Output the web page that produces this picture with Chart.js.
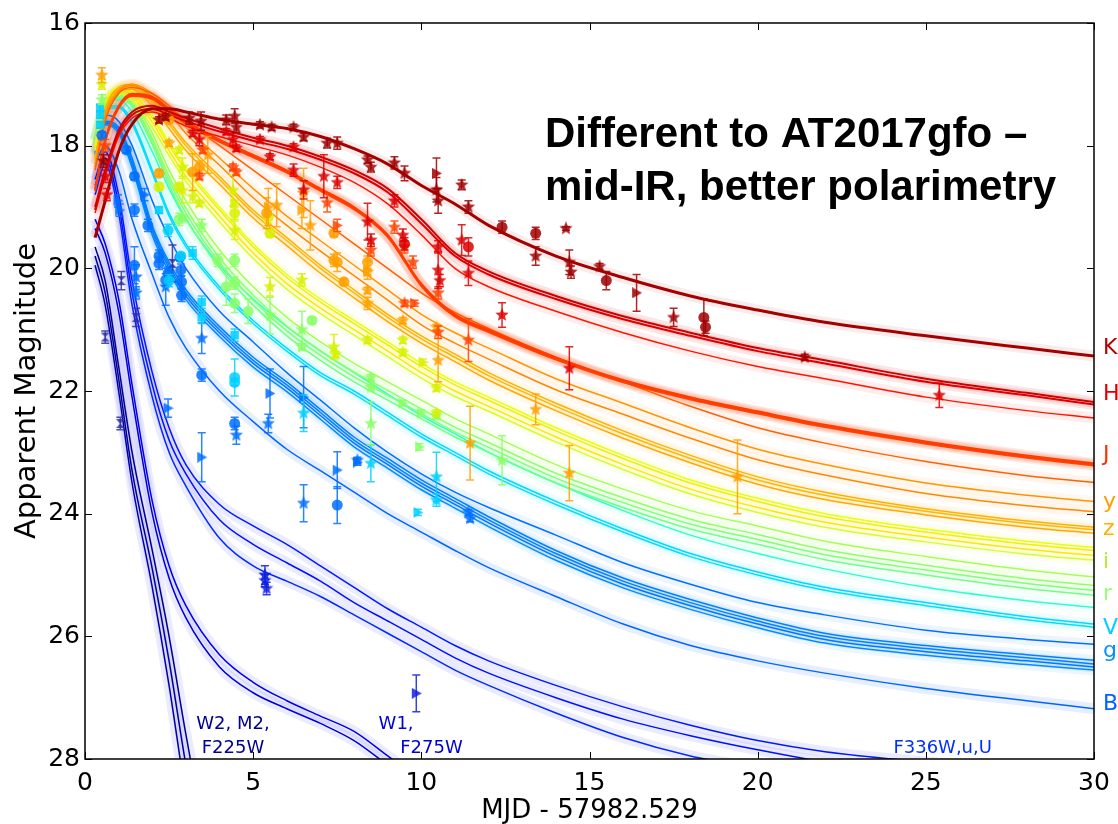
<!DOCTYPE html>
<html>
<head>
<meta charset="utf-8">
<title>Light curves</title>
<script src="https://cdn.jsdelivr.net/npm/chart.js@4.4.0/dist/chart.umd.min.js"></script>
<style>
  html, body { margin: 0; padding: 0; background: #fff; }
  #wrap { width: 1118px; height: 824px; }
</style>
</head>
<body>
<div id="wrap"><canvas id="lc" width="1118" height="824"></canvas></div>
<script>
// ---- model light curves, sampled on one day grid ----
const modelDays = [0.3, 0.6, 1, 1.4, 2, 2.5, 3, 4, 5, 6, 7, 8, 9, 10, 11, 12, 14, 16, 18, 20, 22, 25, 28, 30];

const kModel   = [19.5, 18.9, 18.1, 17.65, 17.4, 17.4, 17.45, 17.57, 17.65, 17.72, 17.85, 18.05, 18.3, 18.65, 18.95, 19.3, 19.8, 20.15, 20.45, 20.68, 20.88, 21.1, 21.3, 21.43];
const hModelA  = [19.0, 18.4, 17.75, 17.45, 17.35, 17.45, 17.55, 17.72, 17.87, 18.0, 18.18, 18.4, 18.7, 19.2, 19.75, 20.05, 20.45, 20.78, 21.05, 21.3, 21.5, 21.8, 22.03, 22.18];
const hModelB  = [19.05, 18.45, 17.8, 17.5, 17.4, 17.5, 17.6, 17.77, 17.92, 18.05, 18.23, 18.45, 18.76, 19.27, 19.8, 20.1, 20.5, 20.83, 21.1, 21.35, 21.55, 21.85, 22.07, 22.22];
const hModelC  = [19.1, 18.5, 17.85, 17.55, 17.45, 17.55, 17.68, 17.85, 18.0, 18.15, 18.35, 18.6, 18.95, 19.45, 20.0, 20.3, 20.7, 21.05, 21.35, 21.6, 21.8, 22.1, 22.32, 22.44];
const jModelA  = [18.7, 17.9, 17.35, 17.15, 17.2, 17.4, 17.6, 17.9, 18.15, 18.4, 18.7, 19.0, 19.45, 20.25, 20.75, 21.0, 21.45, 21.82, 22.1, 22.33, 22.55, 22.82, 23.05, 23.18];
const jModelB  = [18.72, 17.92, 17.37, 17.17, 17.22, 17.42, 17.62, 17.92, 18.17, 18.42, 18.72, 19.02, 19.47, 20.27, 20.77, 21.02, 21.47, 21.84, 22.12, 22.35, 22.57, 22.84, 23.07, 23.2];
const jModelC  = [18.74, 17.94, 17.39, 17.19, 17.24, 17.44, 17.64, 17.94, 18.19, 18.44, 18.74, 19.04, 19.49, 20.29, 20.79, 21.04, 21.49, 21.86, 22.14, 22.37, 22.59, 22.86, 23.09, 23.22];
const oModel   = [18.4, 17.6, 17.15, 17.05, 17.15, 17.35, 17.6, 18.0, 18.4, 18.8, 19.2, 19.6, 20.0, 20.4, 20.72, 20.98, 21.45, 21.85, 22.25, 22.6, 22.85, 23.15, 23.38, 23.49];
const yModelA  = [18.3, 17.5, 17.1, 17.0, 17.15, 17.4, 17.7, 18.2, 18.7, 19.15, 19.55, 19.95, 20.35, 20.75, 21.05, 21.3, 21.8, 22.2, 22.6, 22.95, 23.2, 23.5, 23.7, 23.8];
const yModelB  = [18.35, 17.55, 17.12, 17.02, 17.2, 17.47, 17.8, 18.32, 18.85, 19.3, 19.72, 20.12, 20.52, 20.92, 21.22, 21.48, 21.98, 22.38, 22.77, 23.12, 23.37, 23.67, 23.87, 23.97];
const zModelA  = [18.2, 17.4, 17.05, 17.0, 17.25, 17.6, 17.95, 18.5, 19.05, 19.5, 19.95, 20.35, 20.75, 21.1, 21.4, 21.7, 22.2, 22.65, 23.05, 23.4, 23.65, 23.92, 24.12, 24.22];
const zModelB  = [18.22, 17.42, 17.07, 17.03, 17.3, 17.65, 18.0, 18.55, 19.1, 19.55, 20.0, 20.4, 20.8, 21.15, 21.45, 21.75, 22.25, 22.7, 23.1, 23.45, 23.7, 23.96, 24.16, 24.26];
const zModelC  = [18.25, 17.45, 17.1, 17.08, 17.36, 17.72, 18.08, 18.63, 19.18, 19.63, 20.08, 20.48, 20.87, 21.22, 21.52, 21.82, 22.32, 22.77, 23.17, 23.52, 23.77, 24.02, 24.22, 24.32];
const iModelA  = [18.0, 17.3, 17.05, 17.1, 17.5, 17.95, 18.35, 19.0, 19.6, 20.1, 20.5, 20.85, 21.2, 21.55, 21.85, 22.1, 22.6, 23.05, 23.45, 23.75, 24.0, 24.25, 24.45, 24.55];
const iModelB  = [18.02, 17.32, 17.08, 17.14, 17.55, 18.0, 18.4, 19.05, 19.65, 20.15, 20.55, 20.9, 21.25, 21.6, 21.9, 22.15, 22.65, 23.1, 23.5, 23.8, 24.05, 24.3, 24.5, 24.6];
const iModelC  = [18.05, 17.35, 17.12, 17.2, 17.62, 18.08, 18.5, 19.15, 19.75, 20.25, 20.65, 21.0, 21.35, 21.7, 22.0, 22.25, 22.75, 23.2, 23.6, 23.9, 24.14, 24.38, 24.58, 24.68];
const iModelD  = [18.08, 17.38, 17.15, 17.26, 17.7, 18.16, 18.58, 19.24, 19.84, 20.34, 20.74, 21.09, 21.44, 21.79, 22.09, 22.33, 22.83, 23.28, 23.68, 23.98, 24.22, 24.46, 24.66, 24.76];
const rModelA  = [17.9, 17.3, 17.15, 17.25, 17.8, 18.4, 18.9, 19.7, 20.3, 20.8, 21.2, 21.55, 21.85, 22.15, 22.45, 22.7, 23.2, 23.6, 23.95, 24.2, 24.45, 24.7, 24.92, 25.03];
const rModelB  = [17.92, 17.32, 17.18, 17.3, 17.88, 18.5, 19.02, 19.83, 20.44, 20.94, 21.34, 21.69, 21.99, 22.29, 22.59, 22.84, 23.34, 23.74, 24.09, 24.34, 24.59, 24.84, 25.06, 25.17];
const rModelC  = [17.94, 17.34, 17.2, 17.33, 17.93, 18.57, 19.1, 19.91, 20.52, 21.02, 21.42, 21.77, 22.07, 22.37, 22.67, 22.92, 23.42, 23.82, 24.17, 24.42, 24.67, 24.92, 25.14, 25.25];
const rModelD  = [17.96, 17.36, 17.22, 17.36, 17.98, 18.64, 19.18, 19.99, 20.6, 21.1, 21.5, 21.85, 22.15, 22.45, 22.75, 23.0, 23.5, 23.9, 24.25, 24.5, 24.75, 25.0, 25.22, 25.33];
const tealModel = [17.9, 17.35, 17.25, 17.45, 18.1, 18.7, 19.2, 19.95, 20.5, 20.95, 21.35, 21.7, 22.05, 22.4, 22.7, 23.0, 23.5, 23.95, 24.35, 24.65, 24.9, 25.2, 25.42, 25.53];
const vModelA  = [17.9, 17.4, 17.35, 17.6, 18.4, 19.1, 19.6, 20.3, 20.85, 21.3, 21.7, 22.0, 22.35, 22.7, 23.0, 23.3, 23.8, 24.25, 24.65, 24.95, 25.2, 25.45, 25.68, 25.8];
const vModelB  = [17.92, 17.42, 17.38, 17.65, 18.45, 19.15, 19.65, 20.35, 20.9, 21.35, 21.75, 22.05, 22.4, 22.75, 23.05, 23.35, 23.85, 24.3, 24.7, 25.0, 25.25, 25.5, 25.73, 25.85];
const blueModel = [17.9, 17.5, 17.6, 18.0, 18.9, 19.5, 20.0, 20.7, 21.2, 21.7, 22.15, 22.6, 23.0, 23.35, 23.65, 23.9, 24.35, 24.8, 25.15, 25.45, 25.65, 25.9, 26.05, 26.13];
const gModelA  = [18.1, 17.6, 17.7, 18.2, 19.3, 19.9, 20.35, 20.95, 21.45, 21.85, 22.3, 22.75, 23.1, 23.45, 23.75, 24.05, 24.6, 25.05, 25.4, 25.7, 25.95, 26.15, 26.3, 26.39];
const gModelB  = [18.12, 17.62, 17.73, 18.25, 19.35, 19.95, 20.4, 21.0, 21.5, 21.9, 22.35, 22.8, 23.15, 23.5, 23.8, 24.1, 24.65, 25.1, 25.45, 25.75, 26.0, 26.2, 26.35, 26.45];
const gModelC  = [18.14, 17.64, 17.76, 18.3, 19.4, 20.0, 20.45, 21.05, 21.55, 21.95, 22.4, 22.85, 23.2, 23.55, 23.85, 24.15, 24.7, 25.15, 25.5, 25.8, 26.05, 26.25, 26.4, 26.5];
const gModelD  = [18.16, 17.66, 17.8, 18.36, 19.46, 20.06, 20.51, 21.11, 21.61, 22.01, 22.46, 22.91, 23.26, 23.61, 23.91, 24.21, 24.76, 25.21, 25.56, 25.86, 26.11, 26.31, 26.46, 26.55];
const bModel   = [18.3, 18.0, 18.4, 19.2, 20.1, 20.8, 21.3, 22.0, 22.5, 22.95, 23.3, 23.65, 24.0, 24.3, 24.6, 24.88, 25.35, 25.8, 26.15, 26.4, 26.6, 26.85, 27.05, 27.18];
const uModelA  = [18.55, 18.1, 18.8, 20.2, 21.7, 22.6, 23.2, 23.85, 24.2, 24.5, 24.85, 25.2, 25.55, 25.85, 26.15, 26.4, 26.8, 27.15, 27.45, 27.7, 27.88, 28.05, 28.2, 28.3];
const uModelB  = [18.65, 18.2, 18.95, 20.4, 21.9, 22.8, 23.35, 24.1, 24.5, 24.8, 25.1, 25.45, 25.75, 26.05, 26.35, 26.6, 27.0, 27.35, 27.62, 27.85, 28.05, 28.25];
const uModelC  = [18.8, 18.3, 19.1, 20.6, 22.1, 23.0, 23.55, 24.4, 24.85, 25.1, 25.35, 25.65, 25.95, 26.25, 26.55, 26.8, 27.25, 27.65, 27.95, 28.15];
const w1ModelA = [19.2, 19.6, 20.5, 21.9, 23.8, 24.85, 25.5, 26.3, 26.75, 27.05, 27.3, 27.55, 27.95, 28.35];
const w1ModelB = [19.35, 19.75, 20.7, 22.1, 24.0, 25.05, 25.7, 26.5, 26.92, 27.18, 27.42, 27.7, 28.1, 28.5];
const w2ModelA = [19.65, 20.2, 21.6, 23.0, 24.6, 26.0, 27.6, 30.5];
const w2ModelB = [19.8, 20.4, 21.8, 23.3, 24.9, 26.4, 28.1, 31.0];
const w2ModelC = [19.95, 20.6, 22.0, 23.5, 25.2, 26.8, 28.6, 31.5];

// ---- photometry: [days, magnitude, error] ----
const kStars = [[0.55, 18.25, 0.1], [2.2, 17.58, 0.05], [2.4, 17.53, 0.05], [3.1, 17.55, 0.1], [3.45, 17.6, 0.15], [4.2, 17.58, 0.08], [4.45, 17.52, 0.12], [4.5, 17.7, 0.08], [5.2, 17.66, 0.05], [5.55, 17.7, 0.05], [6.2, 17.7, 0.05], [6.5, 17.86, 0.06], [7.2, 17.96, 0.08], [7.5, 17.96, 0.1], [8.4, 18.23, 0.06], [8.5, 18.35, 0.08], [9.2, 18.28, 0.1], [9.5, 18.45, 0.12], [10.45, 18.72, 0.2], [10.5, 18.9, 0.2], [11.2, 18.64, 0.08], [11.4, 19.0, 0.1], [13.4, 19.8, 0.15], [14.3, 19.35, 0.03], [14.4, 19.9, 0.2], [14.45, 20.06, 0.1], [15.3, 19.97, 0.05], [17.5, 20.8, 0.15], [21.4, 21.45, 0.05]];
const kDots = [[12.4, 19.33, 0.1], [13.4, 19.43, 0.1], [15.5, 20.2, 0.15], [18.4, 20.8, 0.3], [18.45, 20.96, 0.1]];
const kTris = [[10.45, 18.45, 0.25], [16.4, 20.4, 0.3]];
const hStars = [[0.6, 18.5, 0.1], [0.65, 18.8, 0.1], [3.2, 17.8, 0.05], [3.4, 17.9, 0.1], [4.2, 17.77, 0.05], [4.4, 17.9, 0.1], [4.5, 18.04, 0.05], [5.2, 17.9, 0.05], [5.5, 18.18, 0.05], [6.2, 18.02, 0.05], [6.2, 18.4, 0.1], [6.5, 18.72, 0.15], [7.1, 18.5, 0.35], [7.5, 18.6, 0.1], [8.4, 19.24, 0.3], [8.5, 19.54, 0.1], [9.2, 18.9, 0.1], [9.45, 19.46, 0.1], [10.5, 19.65, 0.1], [10.5, 20.03, 0.3], [10.55, 20.2, 0.1], [11.2, 19.54, 0.25], [11.4, 20.08, 0.2], [12.4, 20.76, 0.2], [14.4, 21.63, 0.35], [25.4, 22.07, 0.2]];
const hDots = [[9.5, 19.6, 0.1], [11.4, 19.65, 0.15]];
const jStars = [[0.6, 18.0, 0.1], [3.5, 18.07, 0.05], [4.4, 18.35, 0.05], [4.5, 18.43, 0.05], [3.4, 18.5, 0.05], [7.2, 18.93, 0.15], [8.5, 19.7, 0.1], [9.2, 19.33, 0.1], [9.5, 19.65, 0.1], [9.75, 19.9, 0.1], [9.5, 20.57, 0.05], [10.5, 20.4, 0.1], [10.5, 21.04, 0.1], [11.4, 21.17, 0.35]];
const jTris = [[7.5, 19.3, 0.1], [9.8, 20.57, 0.05]];
const yStars = [[0.5, 16.85, 0.12], [2.5, 17.96, 0.05], [3.65, 18.15, 0.3], [5.7, 18.97, 0.35], [6.7, 19.3, 0.4], [6.5, 18.77, 0.4], [8.4, 20.06, 0.05], [8.4, 20.36, 0.05], [8.4, 20.57, 0.1], [9.45, 20.85, 0.05], [10.45, 20.96, 0.05], [10.5, 21.5, 0.35], [11.45, 22.85, 0.6], [13.4, 22.3, 0.25], [14.4, 23.34, 0.45], [19.4, 23.4, 0.6]];
const yDots = [[2.5, 17.58, 0.05], [3.2, 18.43, 0.3], [3.4, 18.35, 0.1], [2.2, 18.45, 0.05], [5.4, 19.1, 0.25], [7.4, 19.87, 0.1], [7.5, 19.9, 0.15], [8.4, 19.9, 0.1], [7.7, 20.22, 0.05], [7.4, 19.43, 0.05]];
const yTris = [[5.45, 19.0, 0.3], [6.45, 19.05, 0.3], [8.4, 20.03, 0.15]];
const iStars = [[0.5, 17.0, 0.08], [2.8, 18.07, 0.05], [2.9, 18.35, 0.15], [2.9, 18.73, 0.2], [3.2, 18.83, 0.1], [3.4, 18.94, 0.05], [4.4, 18.73, 0.25], [4.45, 19.38, 0.15], [5.5, 20.3, 0.15], [6.45, 20.19, 0.1], [7.4, 21.28, 0.2], [7.45, 21.4, 0.05], [8.4, 21.17, 0.05], [9.45, 21.17, 0.05], [9.45, 21.37, 0.05], [10.45, 21.95, 0.05], [10.45, 22.36, 0.05]];
const iDots = [[2.2, 18.67, 0.05], [2.8, 18.67, 0.05], [4.45, 19.1, 0.1], [5.45, 19.16, 0.1], [5.5, 19.43, 0.05]];
const iTris = [[4.45, 18.94, 0.05], [10.05, 21.53, 0.05]];
const rStars = [[0.5, 17.25, 0.08], [2.9, 19.18, 0.05], [3.47, 19.3, 0.1], [5.5, 20.77, 0.3], [6.45, 21.0, 0.3], [6.45, 21.28, 0.05], [8.5, 21.78, 0.05], [8.5, 21.94, 0.05], [8.5, 22.53, 0.35], [10.45, 22.4, 0.05], [12.4, 23.13, 0.4]];
const rDots = [[2.8, 19.2, 0.1], [3.95, 19.87, 0.1], [4.45, 19.87, 0.1], [4.2, 20.3, 0.3], [4.45, 20.24, 0.1], [4.45, 20.57, 0.15], [4.85, 20.7, 0.2], [6.75, 20.85, 0.05]];
const rTris = [[9.45, 22.2, 0.05], [10.0, 22.36, 0.05], [9.95, 22.91, 0.05]];
const vSquares = [[0.45, 17.38, 0.05], [0.45, 17.5, 0.05], [0.45, 17.66, 0.05], [2.2, 19.05, 0.05], [3.2, 19.75, 0.1], [3.47, 20.55, 0.1], [3.47, 20.8, 0.1], [4.45, 21.09, 0.1]];
const vDots = [[2.47, 19.38, 0.1], [2.5, 20.2, 0.1], [2.85, 19.8, 0.05], [4.45, 21.78, 0.3], [4.45, 21.86, 0.05]];
const vStars = [[6.5, 22.36, 0.3], [8.5, 23.18, 0.3], [10.45, 23.4, 0.4], [10.45, 23.78, 0.1]];
const vTris = [[9.9, 23.98, 0.05]];
const bDots = [[0.5, 17.83, 0.05], [1.23, 18.07, 0.05], [1.47, 18.5, 0.05], [1.47, 19.05, 0.1], [1.87, 19.3, 0.1], [1.47, 19.95, 0.3], [2.2, 19.8, 0.1], [2.2, 19.92, 0.1], [2.4, 20.19, 0.1], [2.47, 20.08, 0.1], [2.82, 19.82, 0.05], [2.85, 20.03, 0.1], [2.87, 20.22, 0.1], [2.87, 20.44, 0.1], [3.47, 21.74, 0.1], [4.45, 22.53, 0.1], [7.5, 23.86, 0.3]];
const bStars = [[1.52, 20.14, 0.2], [1.52, 20.4, 0.1], [2.4, 20.3, 0.3], [3.47, 21.14, 0.25], [4.5, 22.72, 0.15], [5.45, 22.53, 0.15], [6.5, 23.83, 0.3], [8.1, 23.13, 0.05], [11.4, 23.98, 0.05], [11.45, 24.08, 0.05]];
const bTris = [[0.98, 18.9, 0.1], [1.03, 19.05, 0.1], [1.77, 18.8, 0.1], [2.47, 22.28, 0.15], [3.47, 23.08, 0.4], [5.5, 22.04, 0.4], [6.5, 22.1, 0.5], [7.5, 23.29, 0.3], [8.1, 23.16, 0.05]];
const uvStars = [[5.35, 25.0, 0.15], [5.35, 25.09, 0.1], [5.4, 25.22, 0.1]];
const uvTris = [[9.85, 26.93, 0.3]];
const uvBows = [[0.6, 21.12, 0.1], [1.08, 20.2, 0.15], [1.05, 22.53, 0.1], [1.52, 20.8, 0.15], [2.6, 19.92, 0.3]];

// ---- labels ----
const bandNames = ['K', 'H', 'J', 'y', 'z', 'i', 'r', 'V', 'g', 'B'];
const bandLabelMags = [21.3, 22.05, 23.05, 23.82, 24.25, 24.8, 25.32, 25.87, 26.25, 27.1];
const bandLabelColors = ['#b00000', '#e00000', '#ff3000', '#ffa000', '#ffb000', '#b4ee30', '#98ff70', '#00d0ff', '#0090ff', '#0064ff'];
const uvLabels = ['W2, M2,', 'F225W', 'W1,', 'F275W', 'F336W,u,U'];
const uvLabelDays = [4.4, 4.4, 9.25, 10.3, 25.5];
const uvLabelMags = [27.44, 27.83, 27.44, 27.83, 27.83];
const uvLabelColors = ['#000090', '#000090', '#0000d8', '#0000d8', '#0030ff'];

// curve -> colour, width, shade strength
const modelCurves = [
  [kModel, '#a50000', 3, 0.08], [hModelA, '#d00000', 2, 0.1], [hModelB, '#dc0000', 2, 0.1], [hModelC, '#ff1400', 1.5, 0.08],
  [jModelA, '#ff3c00', 1.8, 0.1], [jModelB, '#ff3c00', 1.8, 0.1], [jModelC, '#ff4400', 1.8, 0.1], [oModel, '#ff6000', 1.5, 0.07],
  [yModelA, '#ff9400', 1.5, 0.07], [yModelB, '#ff8800', 1.5, 0.07],
  [zModelA, '#ffb000', 1.5, 0.07], [zModelB, '#ffb800', 1.5, 0.07], [zModelC, '#ffa800', 1.5, 0.07],
  [iModelA, '#e4ff14', 1.5, 0.07], [iModelB, '#f0f000', 1.5, 0.07], [iModelC, '#ffe600', 1.5, 0.07], [iModelD, '#d4ff24', 1.5, 0.07],
  [rModelA, '#a4ff54', 1.5, 0.07], [rModelB, '#90ff68', 1.5, 0.07], [rModelC, '#80ff78', 1.5, 0.07], [rModelD, '#70ff88', 1.5, 0.07],
  [tealModel, '#2cffca', 1.5, 0.07], [vModelA, '#00d8ff', 1.5, 0.07], [vModelB, '#00e0f8', 1.5, 0.07],
  [blueModel, '#0070ff', 1.5, 0.08],
  [gModelA, '#0080ff', 1.5, 0.08], [gModelB, '#0084ff', 1.5, 0.08], [gModelC, '#0078ff', 1.5, 0.08], [gModelD, '#008cff', 1.5, 0.08],
  [bModel, '#0064ff', 1.5, 0.1],
  [uModelA, '#0018ff', 1.5, 0.12], [uModelB, '#0010ff', 1.5, 0.12], [uModelC, '#0028ff', 1.5, 0.12],
  [w1ModelA, '#0000e8', 1.5, 0.12], [w1ModelB, '#0000d4', 1.5, 0.12],
  [w2ModelA, '#00008c', 1.5, 0.12], [w2ModelB, '#000098', 1.5, 0.12], [w2ModelC, '#0000a8', 1.5, 0.12]
];

// photometry set -> colour, marker
const pointSets = [
  [kStars, '#a00000', 'star'], [kDots, '#a00000', 'circle'], [kTris, '#a00000', 'tri'],
  [hStars, '#dd0000', 'star'], [hDots, '#dd0000', 'circle'],
  [jStars, '#ff4400', 'star'], [jTris, '#ff4400', 'tri'],
  [yStars, '#ffa000', 'star'], [yDots, '#ffa000', 'circle'], [yTris, '#ffa000', 'tri'],
  [iStars, '#d8f000', 'star'], [iDots, '#d8f000', 'circle'], [iTris, '#d8f000', 'tri'],
  [rStars, '#88ff66', 'star'], [rDots, '#88ff66', 'circle'], [rTris, '#88ff66', 'tri'],
  [vSquares, '#00d0ff', 'square'], [vDots, '#00d0ff', 'circle'], [vStars, '#00d0ff', 'star'], [vTris, '#00d0ff', 'tri'],
  [bDots, '#0070ff', 'circle'], [bStars, '#0070ff', 'star'], [bTris, '#0070ff', 'tri'],
  [uvStars, '#1020e0', 'star'], [uvTris, '#1020e0', 'tri'], [uvBows, '#3030a0', 'bow']
];

function withAlpha(hex, a) {
  const n = parseInt(hex.slice(1), 16);
  return `rgba(${n >> 16},${(n >> 8) & 255},${n & 255},${a})`;
}

// small filled marker sprites
function markerSprite(shape, color) {
  const size = shape === 'star' ? 14 : 11;
  const c = document.createElement('canvas');
  c.width = c.height = size;
  const g = c.getContext('2d');
  const r = size / 2;
  g.fillStyle = color;
  g.beginPath();
  if (shape === 'star') {
    for (let i = 0; i < 10; i++) {
      const rad = i % 2 ? r * 0.45 : r;
      const a = -Math.PI / 2 + i * Math.PI / 5;
      g.lineTo(r + rad * Math.cos(a), r + rad * Math.sin(a));
    }
  } else if (shape === 'tri') {
    g.moveTo(1, 0); g.lineTo(size, r); g.lineTo(1, size);
  } else if (shape === 'bow') {
    g.moveTo(1, 1); g.lineTo(size - 1, 1); g.lineTo(1, size - 1); g.lineTo(size - 1, size - 1);
  }
  g.closePath();
  g.fill();
  return c;
}

const datasets = [];

pointSets.forEach(([rows, color, shape]) => {
  const fill = withAlpha(color, 0.85);
  const ds = {
    data: rows.map(([x, y, e]) => ({ x, y, e })),
    errorColor: fill,
    order: 0,
    pointBorderWidth: 0,
    pointBackgroundColor: fill,
    pointBorderColor: fill
  };
  if (shape === 'circle') { ds.pointStyle = 'circle'; ds.pointRadius = 5.5; }
  else if (shape === 'square') { ds.pointStyle = 'rect'; ds.pointRadius = 6; }
  else { ds.pointStyle = markerSprite(shape, fill); ds.pointRadius = 6; }
  datasets.push(ds);
});

modelCurves.forEach(([mags, color, width, shade]) => {
  const pts = mags.map((m, i) => ({ x: modelDays[i], y: m }));
  const uv = color.startsWith('#00') && parseInt(color.slice(3, 5), 16) < 0x30;
  datasets.push({
    data: pts, showLine: true, pointRadius: 0, order: 1,
    borderColor: color, borderWidth: width, cubicInterpolationMode: 'monotone'
  });
  datasets.push({
    data: pts, showLine: true, pointRadius: 0, order: 2,
    borderColor: uv ? `rgba(90,90,255,${shade})` : withAlpha(color, shade),
    borderWidth: 11, cubicInterpolationMode: 'monotone'
  });
});

const errorBars = {
  id: 'errorBars',
  beforeDatasetDraw(chart, args) {
    const ds = chart.data.datasets[args.index];
    if (!ds.errorColor) return;
    const { ctx, chartArea: a } = chart;
    const ys = chart.scales.y;
    ctx.save();
    ctx.beginPath();
    ctx.rect(a.left, a.top, a.width, a.height);
    ctx.clip();
    ctx.strokeStyle = ds.errorColor;
    ctx.lineWidth = 1.5;
    args.meta.data.forEach((pt, i) => {
      const d = ds.data[i];
      const y1 = ys.getPixelForValue(d.y - d.e);
      const y2 = ys.getPixelForValue(d.y + d.e);
      ctx.beginPath();
      ctx.moveTo(pt.x, y1); ctx.lineTo(pt.x, y2);
      ctx.moveTo(pt.x - 4, y1); ctx.lineTo(pt.x + 4, y1);
      ctx.moveTo(pt.x - 4, y2); ctx.lineTo(pt.x + 4, y2);
      ctx.stroke();
    });
    ctx.restore();
  }
};

// box, inward ticks and the text drawn on the plot
const frame = {
  id: 'frame',
  afterDraw(chart) {
    const { ctx, chartArea: a, scales: { x, y } } = chart;
    ctx.save();
    ctx.strokeStyle = '#000';
    ctx.lineWidth = 1;
    x.ticks.forEach(t => {
      const px = Math.round(x.getPixelForValue(t.value)) + 0.5;
      ctx.beginPath();
      ctx.moveTo(px, a.bottom); ctx.lineTo(px, a.bottom - 7);
      ctx.moveTo(px, a.top); ctx.lineTo(px, a.top + 7);
      ctx.stroke();
    });
    y.ticks.forEach(t => {
      const py = Math.round(y.getPixelForValue(t.value)) + 0.5;
      ctx.beginPath();
      ctx.moveTo(a.left, py); ctx.lineTo(a.left + 7, py);
      ctx.moveTo(a.right, py); ctx.lineTo(a.right - 7, py);
      ctx.stroke();
    });
    ctx.lineWidth = 1.5;
    ctx.strokeRect(a.left, a.top, a.width, a.height);

    ctx.font = '22px "DejaVu Sans"';
    ctx.textAlign = 'left';
    ctx.textBaseline = 'middle';
    bandNames.forEach((name, i) => {
      ctx.fillStyle = bandLabelColors[i];
      ctx.fillText(name, a.right + 9, y.getPixelForValue(bandLabelMags[i]));
    });

    ctx.font = '18px "DejaVu Sans"';
    ctx.textAlign = 'center';
    uvLabels.forEach((txt, i) => {
      ctx.fillStyle = uvLabelColors[i];
      ctx.fillText(txt, x.getPixelForValue(uvLabelDays[i]), y.getPixelForValue(uvLabelMags[i]));
    });

    ctx.fillStyle = '#000';
    ctx.font = 'bold 42px "Liberation Sans", Arial, sans-serif';
    ctx.textAlign = 'left';
    ctx.textBaseline = 'alphabetic';
    ctx.fillText('Different to AT2017gfo \u2013', 545, 147);
    ctx.fillText('mid-IR, better polarimetry', 545, 200);
    ctx.restore();
  }
};

new Chart(document.getElementById('lc'), {
  type: 'scatter',
  data: { datasets },
  options: {
    responsive: false,
    animation: false,
    devicePixelRatio: 1,
    layout: { padding: { left: 0, right: 24, top: 23, bottom: 0 } },
    plugins: { legend: { display: false }, tooltip: { enabled: false } },
    scales: {
      x: {
        type: 'linear', min: 0, max: 30,
        grid: { display: false, tickLength: 0 }, border: { display: false },
        ticks: { stepSize: 5, color: '#000', padding: 9, font: { family: 'DejaVu Sans', size: 25 } },
        title: { display: true, text: 'MJD - 57982.529', color: '#000', padding: { top: 0, bottom: -3 }, font: { family: 'DejaVu Sans', size: 26 } },
        afterFit(s) { s.height = 65; s.paddingLeft = 0; s.paddingRight = 0; }
      },
      y: {
        type: 'linear', min: 16, max: 28, reverse: true,
        grid: { display: false, tickLength: 0 }, border: { display: false },
        ticks: { stepSize: 2, color: '#000', padding: 5, font: { family: 'DejaVu Sans', size: 25 } },
        title: { display: true, text: 'Apparent Magnitude', color: '#000', padding: { top: 10, bottom: 0 }, font: { family: 'DejaVu Sans', size: 29 } },
        afterFit(s) { s.width = 85; s.paddingTop = 0; s.paddingBottom = 0; }
      }
    }
  },
  plugins: [errorBars, frame]
});
</script>
</body>
</html>
